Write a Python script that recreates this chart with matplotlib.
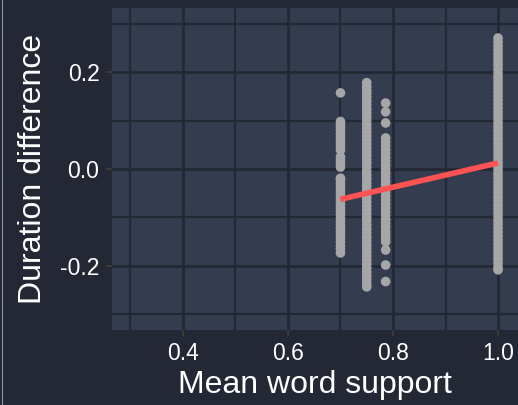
import numpy as np
import matplotlib
matplotlib.use("Agg")
from matplotlib import pyplot as plt
from matplotlib.lines import Line2D

# mean word support groups and the duration differences seen in each
y_070 = [0.157, 0.098, 0.092, 0.086, 0.080, 0.073, 0.066, 0.059, 0.052, 0.045,
         0.039, 0.025, 0.018, 0.011, 0.004, -0.019, -0.023, -0.030,
         -0.037, -0.044, -0.051, -0.058, -0.066, -0.073, -0.080, -0.087, -0.094, -0.101,
         -0.108, -0.115, -0.122, -0.129, -0.136, -0.143, -0.150, -0.158, -0.165, -0.173]
y_075 = [0.178, 0.170, 0.162, 0.155, 0.148, 0.140, 0.132, 0.124, 0.116, 0.108,
         0.100, 0.092, 0.084, 0.076, 0.068, 0.060, 0.052, 0.044, 0.036, 0.028,
         0.020, 0.012, 0.004, -0.004, -0.012, -0.020, -0.028, -0.036, -0.044, -0.052,
         -0.060, -0.068, -0.076, -0.084, -0.092, -0.100, -0.108, -0.116, -0.124, -0.132,
         -0.140, -0.148, -0.156, -0.164, -0.172, -0.180, -0.188, -0.196, -0.204, -0.212,
         -0.220, -0.228, -0.236, -0.243]
y_0786 = [0.136, 0.118, 0.095, 0.064, 0.056, 0.048, 0.040, 0.032, 0.024, 0.016,
          0.008, 0.000, -0.008, -0.016, -0.024, -0.032, -0.040, -0.048, -0.056, -0.064,
          -0.072, -0.080, -0.088, -0.096, -0.104, -0.112, -0.120, -0.128, -0.136, -0.143,
          -0.150, -0.167, -0.198, -0.232]
y_100 = [0.270, 0.262, 0.254, 0.246, 0.238, 0.230, 0.222, 0.214, 0.206, 0.198,
         0.190, 0.182, 0.174, 0.166, 0.158, 0.150, 0.142, 0.134, 0.126, 0.118,
         0.110, 0.102, 0.094, 0.086, 0.078, 0.070, 0.062, 0.054, 0.046, 0.038,
         0.030, 0.022, 0.014, 0.006, -0.002, -0.010, -0.018, -0.026, -0.034, -0.042,
         -0.050, -0.058, -0.066, -0.074, -0.082, -0.090, -0.098, -0.106, -0.114, -0.122,
         -0.130, -0.138, -0.146, -0.154, -0.162, -0.170, -0.178, -0.186, -0.194, -0.202,
         -0.208]
groups = [(0.70, y_070), (0.75, y_075), (0.786, y_0786), (1.00, y_100)]

# linear fit
fit_intercept = -0.2375
fit_slope = 0.25

bg = "#232834"
panel = "#333d4f"

plt.rcParams["font.family"] = ["Liberation Sans", "DejaVu Sans"]

fig = plt.figure(figsize=(5.18, 4.05), dpi=100, facecolor=bg)
ax = fig.add_axes([112 / 518, 1 - 330 / 405, 1 - 112 / 518, 322 / 405])
ax.set_facecolor(panel)

xs = []
ys = []
for x, vals in groups:
    xs += [x] * len(vals)
    ys += vals
ax.scatter(xs, ys, s=48, color="#a6a6a6", edgecolors="none", zorder=3)

xfit = np.array([min(xs), max(xs)])
ax.plot(xfit, fit_intercept + fit_slope * xfit, color="#ff5252", lw=4,
        solid_capstyle="butt", zorder=4)

ax.set_xlim(0.265, 1.038)
ax.set_ylim(-0.332, 0.332)
ax.set_xticks([0.4, 0.6, 0.8, 1.0])
ax.set_xticklabels(["0.4", "0.6", "0.8", "1.0"])
ax.set_yticks([-0.2, 0.0, 0.2])
ax.set_yticklabels(["-0.2", "0.0", "0.2"])
ax.set_xticks([0.3, 0.5, 0.7, 0.9], minor=True)
ax.set_yticks([-0.3, -0.1, 0.1, 0.3], minor=True)
ax.grid(True, which="major", color=bg, lw=2.0, zorder=0)
ax.grid(True, which="minor", color=bg, lw=1.6, zorder=0)
ax.set_axisbelow(True)
for s in ax.spines.values():
    s.set_visible(False)
ax.tick_params(which="major", length=4, width=1.5, color="#3c3a36",
               labelcolor="white", labelsize=16.5, pad=5)
ax.tick_params(which="minor", length=0)

ax.set_xlabel("Mean word support", color="white", fontsize=23, labelpad=3)
ax.set_ylabel("Duration difference", color="white", fontsize=23, labelpad=9)

fig.add_artist(Line2D([1.5 / 518, 1.5 / 518], [0, 1], color="#8a8f98", lw=0.8))

fig.savefig("out.png", dpi=100, facecolor=bg)
